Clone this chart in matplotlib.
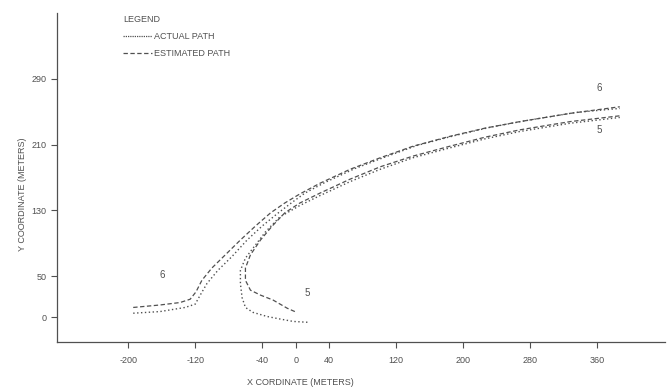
import matplotlib
matplotlib.use("Agg")
import matplotlib.pyplot as plt
from matplotlib.lines import Line2D

plt.rcParams['font.family'] = ['Liberation Sans Narrow', 'Liberation Sans', 'DejaVu Sans']

# Vehicle 6 (upper band)
v6_est_x = [-194, -162, -138, -126, -119, -112, -100, -84, -66, -48, -30, -13, 5, 29, 65, 101, 140, 184, 226, 268, 328, 387]
v6_est_y = [12, 15, 18, 22, 31, 45, 60, 76, 94, 111, 127, 139, 150, 163, 180, 194, 208, 220, 230, 238, 248, 256]
v6_act_x = [-194, -162, -132, -120, -114, -106, -93, -76, -58, -40, -22, -4, 11, 35, 71, 107, 145, 190, 232, 274, 334, 387]
v6_act_y = [5, 7, 12, 16, 27, 41, 57, 74, 94, 111, 126, 140, 151, 164, 181, 195, 209, 221, 231, 239, 249, 254]

# Vehicle 5 (lower band)
v5_act_x = [14, -3, -19, -34, -51, -60, -64, -66, -66, -60, -48, -36, -19, 5, 29, 65, 101, 140, 184, 226, 268, 328, 387]
v5_act_y = [-6, -5, -2, 1, 6, 12, 24, 41, 57, 72, 88, 104, 122, 136, 148, 165, 180, 194, 206, 217, 226, 236, 243]
v5_est_x = [-1, -10, -27, -42, -54, -60, -60, -54, -42, -28, -13, 5, 29, 65, 101, 140, 184, 226, 268, 328, 387]
v5_est_y = [7, 11, 21, 27, 33, 45, 60, 76, 94, 111, 127, 139, 151, 168, 183, 196, 208, 219, 228, 238, 245]

x_ticks = [-200, -120, -40, 0, 40, 120, 200, 280, 360]
y_ticks = [0, 50, 130, 210, 290]

ink = '#505050'
fig = plt.figure(figsize=(6.69, 3.90), dpi=100)
ax = fig.add_axes([57/669, 1-342/390, (665-57)/669, (342-13)/390])

dot = (0, (1, 1.8))
dash = (0, (3.5, 2))
ax.plot(v6_est_x, v6_est_y, color=ink, lw=0.9, ls=dash)
ax.plot(v6_act_x, v6_act_y, color=ink, lw=1.0, ls=dot)
ax.plot(v5_est_x, v5_est_y, color=ink, lw=0.9, ls=dash)
ax.plot(v5_act_x, v5_act_y, color=ink, lw=1.0, ls=dot)

ax.text(-159, 51, '6', fontsize=7, color=ink, ha='center', va='center')
ax.text(14, 29, '5', fontsize=7, color=ink, ha='center', va='center')
ax.text(363, 279, '6', fontsize=7, color=ink, ha='center', va='center')
ax.text(363, 228, '5', fontsize=7, color=ink, ha='center', va='center')

ax.set_xlim(-285, 441)
ax.set_ylim(-30, 370)
ax.set_xticks(x_ticks)
ax.set_xticklabels([str(v) for v in x_ticks])
ax.set_yticks(y_ticks)
ax.set_yticklabels([str(v) for v in y_ticks])
ax.tick_params(axis='both', labelsize=6.5, colors=ink, length=4, width=0.8, direction='out')
ax.tick_params(axis='x', pad=6)
for s in ['top', 'right']:
    ax.spines[s].set_visible(False)
for s in ['left', 'bottom']:
    ax.spines[s].set_color(ink)
    ax.spines[s].set_linewidth(0.9)

ax.set_xlabel('X CORDINATE (METERS)', fontsize=6.5, color=ink, labelpad=12)
ax.set_ylabel('Y COORDINATE (METERS)', fontsize=6.5, color=ink, labelpad=10)
ax.xaxis.set_label_coords(0.4, -0.11)
ax.yaxis.set_label_coords(-0.05, 0.45)

handles = [Line2D([], [], color=ink, lw=0.9, ls=(0, (1, 0.8))),
           Line2D([], [], color=ink, lw=0.9, ls=dash)]
leg = ax.legend(handles, ['ACTUAL PATH', 'ESTIMATED PATH'], title='LEGEND',
                loc='upper left', bbox_to_anchor=(0.095, 1.02), frameon=False,
                fontsize=6.5, title_fontsize=6.5, handlelength=3.2, handletextpad=0.3,
                labelspacing=0.9, alignment='left')
for t in leg.get_texts():
    t.set_color(ink)
leg.get_title().set_color(ink)

fig.savefig('out.png', dpi=100, facecolor='white')
